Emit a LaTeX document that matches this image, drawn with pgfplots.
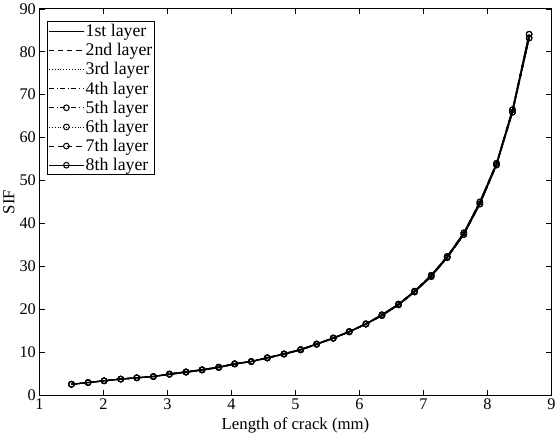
\documentclass[border=0pt]{standalone}
\usepackage{pgfplots}
\pgfplotsset{compat=1.18}
\usepackage{fontspec}
\setmainfont{Liberation Serif}

% crack length vs SIF, one table per layer (they nearly coincide)
\pgfplotstableread{
x y
1.50 2.5
1.76 2.9
2.01 3.3
2.27 3.7
2.52 4.0
2.78 4.3
3.03 4.9
3.29 5.4
3.54 5.9
3.80 6.5
4.05 7.3
4.31 7.8
4.56 8.7
4.82 9.6
5.08 10.6
5.33 11.9
5.59 13.3
5.84 14.8
6.10 16.6
6.35 18.7
6.61 21.2
6.86 24.2
7.12 27.9
7.37 32.3
7.63 37.8
7.88 45.0
8.14 54.0
8.39 66.5
8.65 84.1
}\dataA
\pgfplotstableread{
x y
1.50 2.5
1.76 2.9
2.01 3.3
2.27 3.7
2.52 4.0
2.78 4.3
3.03 4.8
3.29 5.3
3.54 5.8
3.80 6.4
4.05 7.2
4.31 7.8
4.56 8.6
4.82 9.5
5.08 10.5
5.33 11.8
5.59 13.2
5.84 14.7
6.10 16.5
6.35 18.5
6.61 21.0
6.86 24.0
7.12 27.6
7.37 32.0
7.63 37.4
7.88 44.5
8.14 53.6
8.39 65.9
8.65 83.2
}\dataB

\tikzset{
    mdash/.style={dash pattern=on 5pt off 4pt},
    mdot/.style={dash pattern=on 0.8pt off 2pt},
    mdashdot/.style={dash pattern=on 5pt off 2.5pt on 1pt off 2.5pt},
}

\begin{document}
\begin{tikzpicture}
\begin{axis}[
    scale only axis,
    width=504pt, height=380pt,
    xmin=1, xmax=9, ymin=0, ymax=90,
    xtick={1,2,...,9}, ytick={0,10,...,90},
    tick align=inside, tick pos=both,
    major tick length=5pt,
    axis line style={line width=0.9pt},
    every tick/.style={line width=0.7pt, black},
    tick label style={font=\fontsize{16}{18}\selectfont},
    /pgf/number format/assume math mode=true,
    xlabel={Length of crack (mm)},
    ylabel={SIF},
    label style={font=\fontsize{16.5}{18}\selectfont},
    xlabel style={yshift=-1pt},
    ylabel style={yshift=-2pt},
    legend style={at={(0.015,0.968)}, anchor=north west,
        draw=black, line width=1pt, inner sep=1pt,
        font=\fontsize{17.5}{19}\selectfont,
        row sep=2.2pt,
        nodes={inner sep=1.5pt}},
    legend cell align=left,
    legend image code/.code={
        \draw[mark repeat=2, mark phase=2, line width=0.8pt, #1]
        plot coordinates {(0cm,0cm) (0.6cm,0cm) (1.2cm,0cm)};},
    every axis plot/.append style={black, line width=1.2pt},
    mark size=2.8pt,
]
\addplot[solid] table {\dataA};
\addlegendentry{1st layer}
\addplot[mdash] table {\dataB};
\addlegendentry{2nd layer}
\addplot[mdot] table {\dataA};
\addlegendentry{3rd layer}
\addplot[mdashdot] table {\dataB};
\addlegendentry{4th layer}
\addplot[mdashdot, mark=o, mark options={solid, fill=white, line width=1pt}] table {\dataA};
\addlegendentry{5th layer}
\addplot[mdot, mark=o, mark options={solid, fill=white, line width=1pt}] table {\dataB};
\addlegendentry{6th layer}
\addplot[mdash, mark=o, mark options={solid, fill=white, line width=1pt}] table {\dataA};
\addlegendentry{7th layer}
\addplot[solid, mark=o, mark options={solid, fill=white, line width=1pt}] table {\dataB};
\addlegendentry{8th layer}
\end{axis}
\end{tikzpicture}
\end{document}
